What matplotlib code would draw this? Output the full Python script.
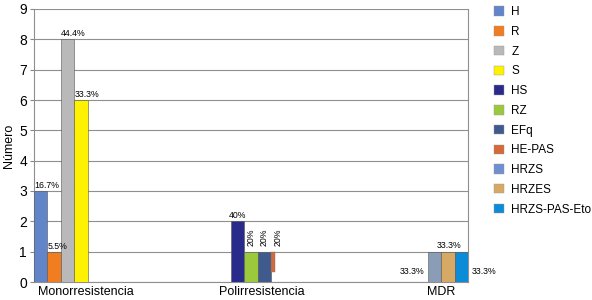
import matplotlib
matplotlib.use("Agg")
import matplotlib.pyplot as plt
from matplotlib.patches import Patch

plt.rcParams['font.family'] = ['Liberation Sans', 'DejaVu Sans']

# data
groups = ['Monorresistencia', 'Polirresistencia', 'MDR']
mono_names = ['H', 'R', 'Z', 'S']
mono_vals = [3, 1, 8, 6]
mono_pct = ['16.7%', '5.5%', '44.4%', '33.3%']
poli_names = ['HS', 'RZ', 'EFq', 'HE-PAS']
poli_vals = [2, 1, 1, 1]
poli_pct = ['40%', '20%', '20%', '20%']
mdr_names = ['HRZS', 'HRZES', 'HRZS-PAS-Eto']
mdr_vals = [1, 1, 1]
mdr_pct = ['33.3%', '33.3%', '33.3%']

colors = {
    'H': '#6284c9', 'R': '#f07d1f', 'Z': '#b9b9b9', 'S': '#fff200',
    'HS': '#2a2a8a', 'RZ': '#9cc83c', 'EFq': '#3f5b8e', 'HE-PAS': '#d4693a',
    'HRZS': '#8a9cb6', 'HRZES': '#d6a965', 'HRZS-PAS-Eto': '#0c8cd8',
}
legend_colors = dict(colors, HRZS='#6f8fd0')

w = 0.068
fig = plt.figure(figsize=(5.92, 3.0), dpi=100)
ax = fig.add_axes([34/592, 18/300, 434/592, 273/300])

# Monorresistencia
for i, (n, v, p) in enumerate(zip(mono_names, mono_vals, mono_pct)):
    x = 0 + i * w
    ax.bar(x, v, width=w, align='edge', color=colors[n], edgecolor='#555555', linewidth=0.4, zorder=3)
    ax.text(x + 0.002, v + 0.03, p, ha='left', va='bottom', fontsize=6.3, zorder=4)

# Polirresistencia
for i, (n, v, p) in enumerate(zip(poli_names, poli_vals, poli_pct)):
    x = 1 + i * w
    if n == 'HE-PAS':
        ax.bar(x, v - 0.33, bottom=0.33, width=0.02, align='edge', color=colors[n],
               edgecolor='#777777', linewidth=0.3, zorder=3)
        ax.text(x + 0.035, v + 0.2, p, rotation=90, ha='center', va='bottom', fontsize=6.3, zorder=4)
        continue
    ax.bar(x, v, width=w, align='edge', color=colors[n], edgecolor='#555555', linewidth=0.4, zorder=3)
    if i == 0:
        ax.text(x + w / 2, v + 0.03, p, ha='center', va='bottom', fontsize=6.3, zorder=4)
    else:
        ax.text(x + w / 2, v + 0.2, p, rotation=90, ha='center', va='bottom', fontsize=6.3, zorder=4)

# MDR
for i, (n, v) in enumerate(zip(mdr_names, mdr_vals)):
    x = 2 + i * w
    ax.bar(x, v, width=w, align='edge', color=colors[n], edgecolor='#555555', linewidth=0.4, zorder=3)
ax.text(2 - 0.02, 0.33, mdr_pct[0], ha='right', va='center', fontsize=6.3)
ax.text(2 + 1.6 * w, mdr_vals[1] + 0.05, mdr_pct[1], ha='center', va='bottom', fontsize=6.3)
ax.text(2 + 3 * w + 0.02, 0.33, mdr_pct[2], ha='left', va='center', fontsize=6.3, clip_on=False)

ax.set_xlim(0, 2 + 3 * w)
ax.set_ylim(0, 9)
ax.set_yticks(range(10))
ax.set_xticks([0.264, 1.157, 2.066])
ax.set_xticklabels(groups, fontsize=9)
ax.tick_params(axis='x', length=0, pad=3)
ax.tick_params(axis='y', length=3, width=0.8, color='#888888', labelsize=10, pad=2)
ax.set_ylabel('Número', fontsize=9, labelpad=3)
ax.yaxis.grid(True, color='#8f8f8f', linewidth=0.8, zorder=0)
ax.set_axisbelow(True)
for s in ['left', 'bottom', 'right']:
    ax.spines[s].set_color('#8f8f8f')
    ax.spines[s].set_linewidth(0.8)
ax.spines['top'].set_visible(False)

handles = [Patch(facecolor=legend_colors[n], edgecolor='#999999', linewidth=0.3, label=n)
           for n in mono_names + poli_names + mdr_names]
fig.legend(handles=handles, loc='upper left', bbox_to_anchor=(492/592, 0.987), frameon=False,
           fontsize=8.5, handlelength=0.85, handleheight=0.85, handletextpad=0.6,
           labelspacing=0.655, borderaxespad=0, borderpad=0.2)

fig.savefig('out.png', dpi=100)
